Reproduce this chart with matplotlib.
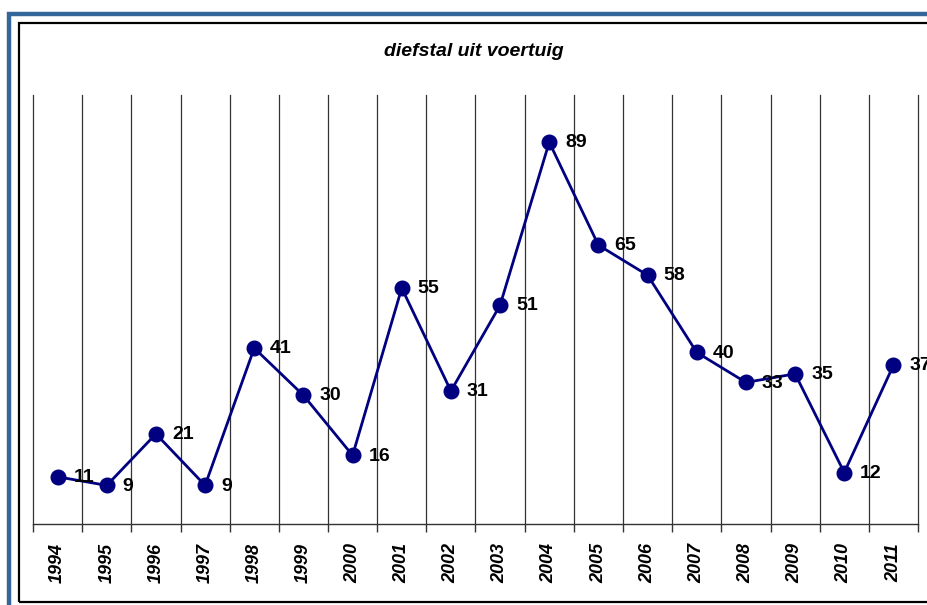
import numpy as np
import matplotlib
matplotlib.use('Agg')
import matplotlib.pyplot as plt
from matplotlib.patches import Rectangle

plt.rcParams['font.family'] = ['Liberation Sans', 'DejaVu Sans']

# data
years = ['1994', '1995', '1996', '1997', '1998', '1999', '2000', '2001', '2002',
         '2003', '2004', '2005', '2006', '2007', '2008', '2009', '2010', '2011']
counts = [11, 9, 21, 9, 41, 30, 16, 55, 31, 51, 89, 65, 58, 40, 33, 35, 12, 37]
title = 'diefstal uit voertuig'

W, H = 927, 605
fig = plt.figure(figsize=(W / 100, H / 100), dpi=100)

# frames (cropped on right and bottom like the screenshot)
fig.patches.append(Rectangle((9 / W, -0.1), 1.2, 1 - 14 / H + 0.1, transform=fig.transFigure,
                             fill=False, edgecolor='#336699', lw=3.2))
fig.patches.append(Rectangle((19 / W, 3 / H), 1.2, 1 - 26 / H, transform=fig.transFigure,
                             fill=False, edgecolor='black', lw=1.6))

ax = fig.add_axes([33 / W, 1 - 524 / H, (918 - 33) / W, (524 - 95) / H])
x = np.arange(len(years))
ax.plot(x, counts, '-o', color='#000080', lw=2.0, markersize=10.5, zorder=3)
for xi, v in zip(x, counts):
    ax.annotate(str(v), (xi, v), xytext=(11.5, -0.5), textcoords='offset points',
                ha='left', va='center', fontsize=14, fontweight='bold', zorder=4,
                annotation_clip=False)

ax.set_xlim(-0.5, len(years) - 0.5)
ax.set_ylim(0, 100)
ax.set_yticks([])
for s in ['left', 'top', 'right']:
    ax.spines[s].set_visible(False)
ax.spines['bottom'].set_linewidth(1.0)
ax.spines['bottom'].set_color('#333333')

ax.set_xticks(x)
ax.set_xticklabels(years, rotation=90, fontsize=13, fontweight='bold', style='italic')
ax.set_xticks(np.arange(-0.5, len(years)), minor=True)
ax.tick_params(axis='x', which='major', length=0, pad=14)
ax.tick_params(axis='x', which='minor', length=6, width=1, color='#333333')
ax.grid(True, which='minor', axis='x', color='#333333', lw=0.9, clip_on=False)
ax.set_axisbelow(True)

fig.text(474 / W, 1 - 52 / H, title, ha='center', va='center', fontsize=14,
         fontweight='bold', style='italic')

fig.savefig('out.png', dpi=100)
